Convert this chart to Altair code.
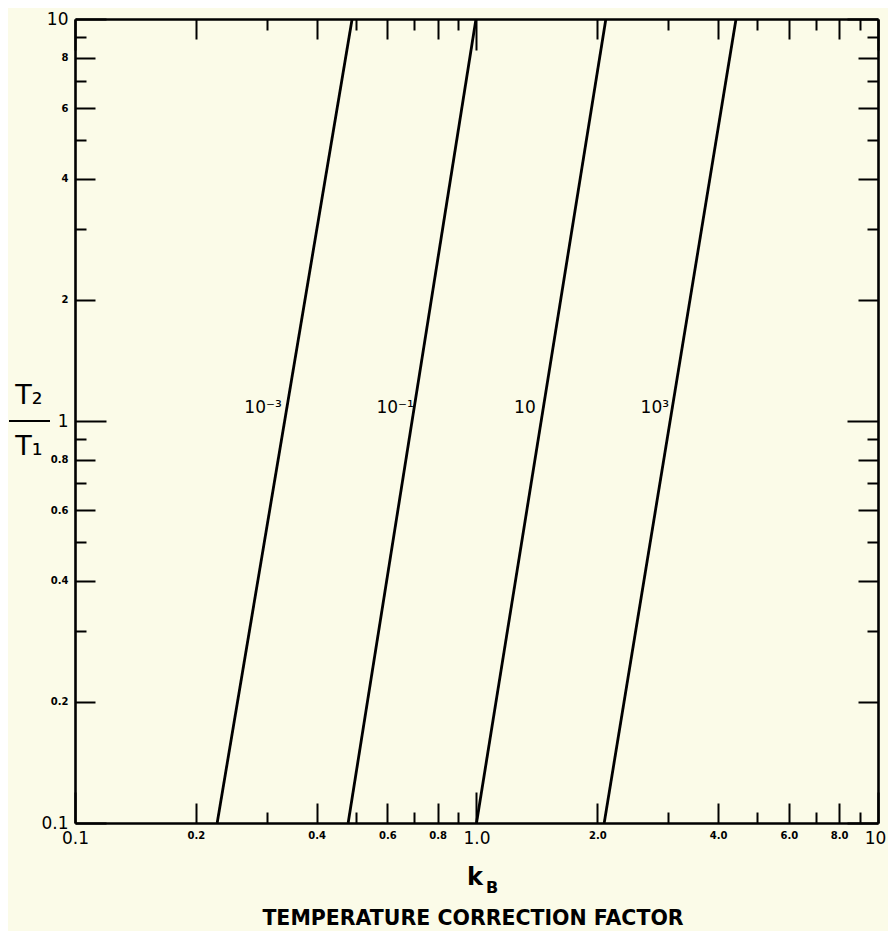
import altair as alt
import pandas as pd

# ---- data ----
series = ["10⁻³", "10⁻¹", "10", "10³"]
kb_at_low = [0.226, 0.479, 1.0, 2.08]    # kB where T2/T1 = 0.1
kb_at_high = [0.490, 0.997, 2.10, 4.43]  # kB where T2/T1 = 10
ratio_low = 0.1
ratio_high = 10.0
label_kb = [0.294, 0.627, 1.32, 2.78]
label_ratio = 1.08

tick_values = [0.1, 0.2, 0.3, 0.4, 0.5, 0.6, 0.7, 0.8, 0.9, 1, 2, 3, 4, 5, 6, 7, 8, 9, 10]
x_tick_labels = ["0.1", "0.2", "", "0.4", "", "0.6", "", "0.8", "", "1.0",
                 "2.0", "", "4.0", "", "6.0", "", "8.0", "", "10"]
y_tick_labels = ["0.1", "0.2", "", "0.4", "", "0.6", "", "0.8", "", "1",
                 "2", "", "4", "", "6", "", "8", "", "10"]
major_ticks = [0.1, 1, 10]
labeled_minor = [v for v, l in zip(tick_values, x_tick_labels) if l and v not in major_ticks]

x_title_main = "k"
x_title_sub = "B"
x_subtitle = "TEMPERATURE CORRECTION FACTOR"
y_title_top = "T₂"
y_title_bottom = "T₁"

W, H = 803, 804
BG = "#fbfbe8"
FONT = "DejaVu Sans"

rows = []
for s, lo, hi in zip(series, kb_at_low, kb_at_high):
    rows.append({"series": s, "kb": lo, "ratio": ratio_low})
    rows.append({"series": s, "kb": hi, "ratio": ratio_high})
lines_df = pd.DataFrame(rows)
labels_df = pd.DataFrame({"series": series, "kb": label_kb, "ratio": [label_ratio] * len(series)})


def js_list(vals):
    return "[" + ",".join(repr(float(v)) for v in vals) + "]"


major_test = f"indexof({js_list(major_ticks)}, datum.value) >= 0"
minor_test = f"indexof({js_list(labeled_minor)}, datum.value) >= 0"
size_expr = f"({major_test}) ? -31 : (({minor_test}) ? -20 : -11)"
pad_expr = f"({major_test}) ? 38 : (({minor_test}) ? 27 : 18)"


def label_expr(labels):
    expr = "''"
    for v, l in reversed(list(zip(tick_values, labels))):
        if l:
            expr = f"abs(datum.value - {float(v)}) < 1e-9 ? '{l}' : ({expr})"
    return expr


font_size = {"condition": {"test": major_test, "value": 17}, "value": 10}
font_weight = {"condition": {"test": major_test, "value": "normal"}, "value": "bold"}

common_axis = dict(
    values=tick_values, grid=False, domainColor="black", domainWidth=2.6,
    tickColor="black", tickWidth=2, title=None,
)

xscale = alt.Scale(type="log", domain=[0.1, 10], nice=False)
yscale = alt.Scale(type="log", domain=[0.1, 10], nice=False)

x_bottom = alt.Axis(
    orient="bottom", tickSize={"expr": size_expr}, labelPadding={"expr": pad_expr},
    labelExpr=label_expr(x_tick_labels), labelFontSize=font_size, labelFontWeight=font_weight,
    labelFont=FONT, labelColor="black", labelFlush=False, labelOverlap=False,
    labelOffset={"condition": {"test": "datum.value == 10", "value": -3}, "value": 0},
    labelBaseline="top", **common_axis,
)
y_left = alt.Axis(
    orient="left", tickSize={"expr": size_expr}, labelPadding={"expr": pad_expr},
    labelExpr=label_expr(y_tick_labels), labelFontSize=font_size, labelFontWeight=font_weight,
    labelFont=FONT, labelColor="black", labelFlush=False, labelOverlap=False,
    **common_axis,
)
x_top = alt.Axis(orient="top", tickSize={"expr": size_expr}, labels=False, **common_axis)
y_right = alt.Axis(orient="right", tickSize={"expr": size_expr}, labels=False, **common_axis)

lines = alt.Chart(lines_df).mark_line(color="black", strokeWidth=2.8, clip=True).encode(
    x=alt.X("kb:Q", scale=xscale, axis=x_bottom),
    y=alt.Y("ratio:Q", scale=yscale, axis=y_left),
    detail="series:N",
)

line_labels = alt.Chart(labels_df).mark_text(
    font=FONT, fontSize=17, color="black", align="center", baseline="middle"
).encode(
    x=alt.X("kb:Q", scale=xscale, axis=x_top),
    y=alt.Y("ratio:Q", scale=yscale, axis=y_right),
    text="series:N",
)

main = alt.layer(lines, line_labels).resolve_axis(x="independent", y="independent")

t_df = pd.DataFrame({"t": [y_title_top]})
b_df = pd.DataFrame({"t": [y_title_bottom]})
k_df = pd.DataFrame({"t": [x_title_main]})
kb_df = pd.DataFrame({"t": [x_title_sub]})
sub_df = pd.DataFrame({"t": [x_subtitle]})

t2 = alt.Chart(t_df).mark_text(font=FONT, fontSize=27, color="black", align="center", baseline="middle").encode(
    x=alt.value(-46), y=alt.value(377), text="t:N")
t1 = alt.Chart(b_df).mark_text(font=FONT, fontSize=27, color="black", align="center", baseline="middle").encode(
    x=alt.value(-46), y=alt.value(428), text="t:N")
frac = alt.Chart(t_df).mark_rule(color="black", strokeWidth=2.2).encode(
    x=alt.value(-66), x2=alt.value(-25), y=alt.value(402))
k_txt = alt.Chart(k_df).mark_text(font=FONT, fontSize=24, fontWeight="bold", color="black",
                                  align="center", baseline="alphabetic").encode(
    x=alt.value(400), y=alt.value(866), text="t:N")
kb_txt = alt.Chart(kb_df).mark_text(font=FONT, fontSize=16, fontWeight="bold", color="black",
                                    align="center", baseline="alphabetic").encode(
    x=alt.value(417), y=alt.value(874), text="t:N")
sub_txt = alt.Chart(sub_df).mark_text(font=FONT, fontSize=20.5, fontWeight="bold", color="black",
                                      align="center", baseline="middle").encode(
    x=alt.value(398), y=alt.value(900), text="t:N")

chart = alt.layer(main, t2, t1, frac, k_txt, kb_txt, sub_txt).properties(
    width=W, height=H,
    autosize=alt.AutoSizeParams(type="none"),
    padding={"left": 67, "top": 11, "right": 10, "bottom": 108},
    background=BG,
).configure_view(stroke=None, fill=BG)

chart.save("out.html", embed_options={"renderer": "svg", "actions": False})
